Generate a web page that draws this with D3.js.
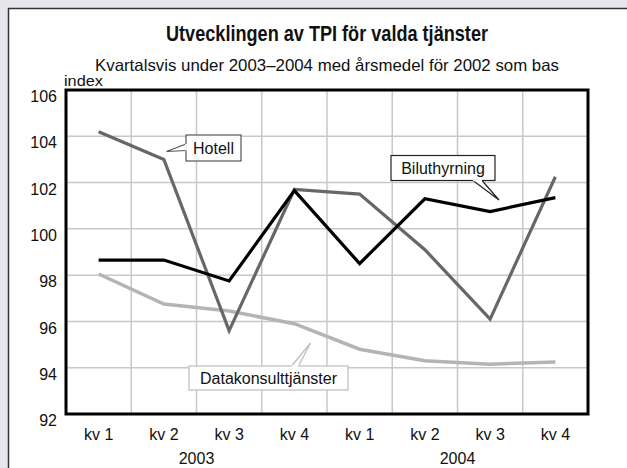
<!DOCTYPE html>
<html><head><meta charset="utf-8">
<script src="https://cdn.jsdelivr.net/npm/d3@7"></script>
<style>
html,body{margin:0;padding:0;background:#e6e7eb;}
svg{display:block;}
</style></head><body>
<script>
const quarters = ["kv 1","kv 2","kv 3","kv 4","kv 1","kv 2","kv 3","kv 4"];
const years = ["2003","2004"];
const hotell = [104.2, 103.0, 95.6, 101.7, 101.5, 99.1, 96.1, 102.25];
const biluthyrning = [98.65, 98.65, 97.75, 101.65, 98.5, 101.3, 100.75, 101.35];
const datakonsult = [98.05, 96.75, 96.45, 95.9, 94.8, 94.3, 94.15, 94.25];
const yTicks = [92, 94, 96, 98, 100, 102, 104, 106];

const W = 627, H = 468;
const svg = d3.select("body").append("svg").attr("width", W).attr("height", H);
svg.append("rect").attr("x",8).attr("y",8).attr("width",W-8).attr("height",H-8).attr("fill","#fff");
svg.append("path").attr("d",`M8.5,${H} V8.5 H${W}`).attr("fill","none").attr("stroke","#333").attr("stroke-width",1.5);

const L = 66, R = 588, T = 90, B = 414;
const idx = d3.range(quarters.length);
const x = d3.scaleBand().domain(idx).range([L, R]);
const y = d3.scaleLinear().domain([92, 106]).range([B, T]);
const cx = i => x(i) + x.bandwidth()/2;

const font = "'Liberation Sans', Arial, Helvetica, sans-serif";
const FS = 16;
const midX = (L + R) / 2;

// title
svg.append("text").attr("x", midX).attr("y", 41).attr("text-anchor","middle")
  .attr("font-family", font).attr("font-weight","bold").attr("font-size", 22)
  .attr("textLength", 322).attr("lengthAdjust","spacingAndGlyphs")
  .attr("fill","#111").text("Utvecklingen av TPI för valda tjänster");
svg.append("text").attr("x", midX).attr("y", 70.5).attr("text-anchor","middle")
  .attr("font-family", font).attr("font-size", 16.5)
  .attr("textLength", 464).attr("lengthAdjust","spacingAndGlyphs")
  .attr("fill","#111").text("Kvartalsvis under 2003–2004 med årsmedel för 2002 som bas");
svg.append("text").attr("x", 64).attr("y", 86)
  .attr("font-family", font).attr("font-size", 15.5)
  .attr("textLength", 39).attr("lengthAdjust","spacingAndGlyphs")
  .attr("fill","#111").text("index");

// grid
const g = svg.append("g");
g.selectAll(".hg").data(yTicks.slice(1,-1)).enter().append("line")
  .attr("x1", L).attr("x2", R).attr("y1", d=>y(d)).attr("y2", d=>y(d))
  .attr("stroke","#c8c8c8").attr("stroke-width",1.5);
g.selectAll(".vg").data(idx.slice(1)).enter().append("line")
  .attr("x1", d=>x(d)).attr("x2", d=>x(d)).attr("y1", T).attr("y2", B)
  .attr("stroke","#c8c8c8").attr("stroke-width",1.5);

// axes
const yAxis = d3.axisLeft(y).tickValues(yTicks).tickSize(0).tickPadding(9).tickFormat(d3.format("d"));
const ya = svg.append("g").attr("transform",`translate(${L},0)`).call(yAxis);
ya.select(".domain").remove();
ya.selectAll("text").attr("font-family", font).attr("font-size", FS).attr("fill","#111")
  .attr("dy", "0.32em").attr("y", 6.5);

const xAxis = d3.axisBottom(x).tickSize(0).tickPadding(15).tickFormat(i => quarters[i]);
const xa = svg.append("g").attr("transform",`translate(0,${B})`).call(xAxis);
xa.select(".domain").remove();
xa.selectAll("text").attr("font-family", font).attr("font-size", FS).attr("fill","#111");

years.forEach((yr, k) => {
  const mid = (cx(k*4+1) + cx(k*4+2))/2;
  svg.append("text").attr("x", mid).attr("y", 464).attr("text-anchor","middle")
    .attr("font-family", font).attr("font-size", FS).attr("fill","#111").text(yr);
});

// lines
const line = d3.line().x((d,i)=>cx(i)).y(d=>y(d));
svg.append("path").datum(datakonsult).attr("d", line).attr("fill","none")
  .attr("stroke","#b4b4b4").attr("stroke-width",3.5);
svg.append("path").datum(hotell).attr("d", line).attr("fill","none")
  .attr("stroke","#676767").attr("stroke-width",3.2);
svg.append("path").datum(biluthyrning).attr("d", line).attr("fill","none")
  .attr("stroke","#000").attr("stroke-width",3.2);

// frame
svg.append("rect").attr("x",L).attr("y",T).attr("width",R-L).attr("height",B-T)
  .attr("fill","none").attr("stroke","#000").attr("stroke-width",3);

// callouts
function callout(bx, by, bw, bh, stroke, text, ptr) {
  const gg = svg.append("g");
  gg.append("rect").attr("x",bx).attr("y",by).attr("width",bw).attr("height",bh)
    .attr("fill","#fff").attr("stroke",stroke).attr("stroke-width",1.2);
  gg.append("path").attr("d", `M${ptr[0][0]},${ptr[0][1]} L${ptr[1][0]},${ptr[1][1]} L${ptr[2][0]},${ptr[2][1]}`)
    .attr("fill","#fff").attr("stroke",stroke).attr("stroke-width",1.2);
  gg.append("line").attr("x1",ptr[0][0]).attr("y1",ptr[0][1]).attr("x2",ptr[2][0]).attr("y2",ptr[2][1])
    .attr("stroke","#fff").attr("stroke-width",1.6);
  gg.append("text").attr("x", bx+bw/2).attr("y", by+bh/2+6).attr("text-anchor","middle")
    .attr("font-family", font).attr("font-size", FS).attr("fill","#111").text(text);
}
callout(186, 135, 55, 26, "#555", "Hotell", [[186,144],[166.5,151.5],[186,150.5]]);
callout(391, 155.5, 104, 25, "#222", "Biluthyrning", [[473,180.5],[499,200],[482,180.5]]);
callout(189, 366, 159, 24, "#bbb", "Datakonsulttjänster", [[291.5,366],[310.5,343],[298.5,366]]);
</script>
</body></html>
